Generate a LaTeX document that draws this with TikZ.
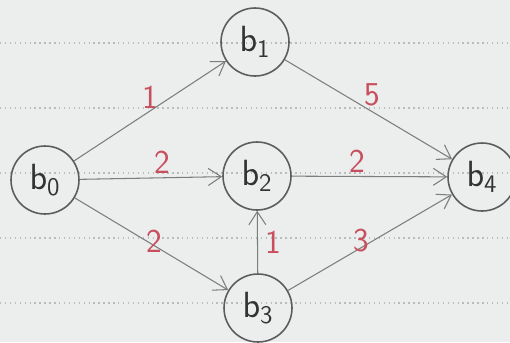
\documentclass[tikz,border=0pt]{standalone}
\usepackage{amsmath,amssymb}
\usepackage{tikz}
\usepackage{xcolor}
\usetikzlibrary{arrows.meta}

\definecolor{paper}{HTML}{ECEEEE}
\definecolor{rule}{HTML}{B8BCBD}
\definecolor{pencil}{HTML}{5A5C5E}
\definecolor{inkred}{HTML}{C8505E}

\tikzset{
  vertex/.style={circle,draw=pencil,line width=0.9pt,minimum size=1.36cm,inner sep=0pt,
    font=\fontsize{22}{22}\selectfont,text=black!80},
  edge/.style={draw=pencil!80,line width=0.6pt,-{Straight Barb[length=2.6mm,width=3.4mm]}},
  weight/.style={font=\sffamily\fontsize{19}{19}\selectfont,text=inkred,inner sep=2pt}
}
\newcommand{\bsub}[1]{$\mathsf{b}_{\scriptstyle\mathsf{#1}}$}

\begin{document}
\begin{tikzpicture}[x=0.02cm,y=-0.02cm]
\useasboundingbox (0,0) rectangle (510,342);
\fill[paper] (0,0) rectangle (510,342);
% ruled paper
\foreach \yy in {43,108,173,238,303}
  \draw[rule,dotted,line width=0.8pt] (0,\yy) -- (510,\yy);

\node[vertex] (b0) at (45,180) {\bsub{0}};
\node[vertex] (b1) at (255,42) {\bsub{1}};
\node[vertex] (b2) at (257,176) {\bsub{2}};
\node[vertex] (b3) at (258,308) {\bsub{3}};
\node[vertex] (b4) at (482,177) {\bsub{4}};

\draw[edge] (b0) -- node[weight,pos=0.5,above,yshift=-1pt] {1} (b1);
\draw[edge] (b1) -- node[weight,pos=0.47,above right=-2pt] {5} (b4);
\draw[edge] (b0) -- node[weight,pos=0.58,above] {2} (b2);
\draw[edge] (b2) -- node[weight,pos=0.42,above] {2} (b4);
\draw[edge] (b0) -- node[weight,pos=0.52,above,yshift=-6pt] {2} (b3);
\draw[edge] (b3) -- node[weight,pos=0.5,right=2pt] {1} (b2);
\draw[edge] (b3) -- node[weight,pos=0.45,above,yshift=-5pt] {3} (b4);
\end{tikzpicture}
\end{document}
